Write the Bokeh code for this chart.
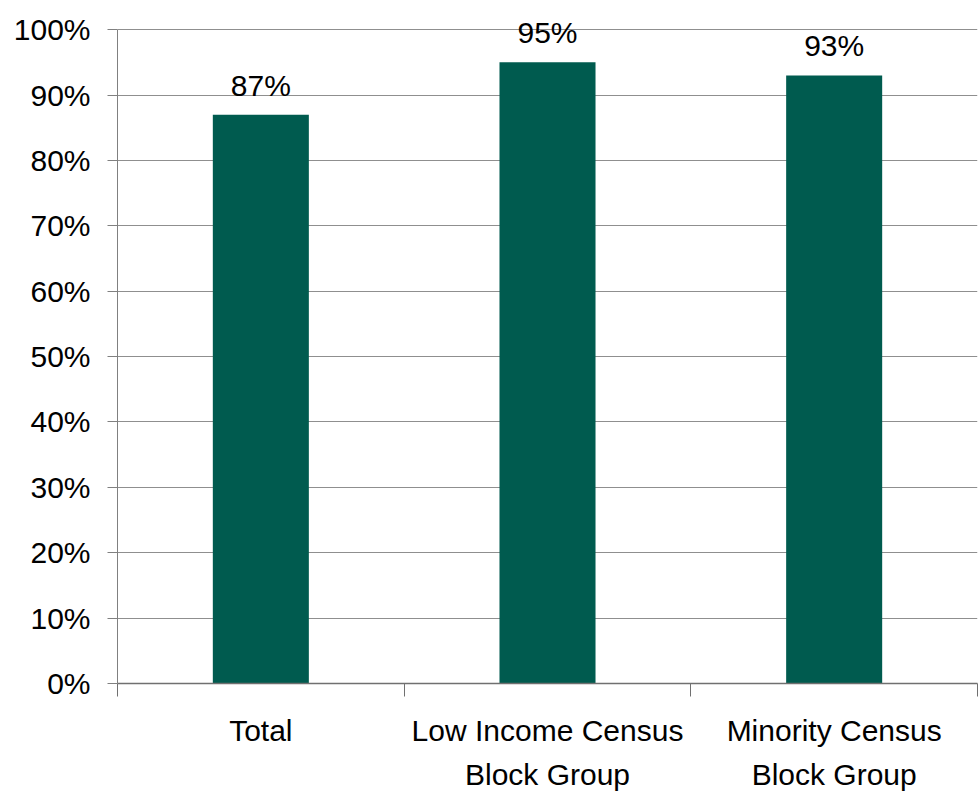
from bokeh.plotting import figure
from bokeh.models import (Range1d, FixedTicker, NumeralTickFormatter, ColumnDataSource, LabelSet)
from bokeh.core.properties import value
from bokeh.embed import file_html
from bokeh.resources import INLINE

categories = ["Total", "Low Income Census\nBlock Group", "Minority Census\nBlock Group"]
values = [0.87, 0.95, 0.93]
value_labels = ["87%", "95%", "93%"]
y_ticks = [0.0, 0.1, 0.2, 0.3, 0.4, 0.5, 0.6, 0.7, 0.8, 0.9, 1.0]

FONT = "Liberation Sans"
FS = "30px"
BAR = "#005B4F"

centers = [i + 0.5 for i in range(len(categories))]
bounds = [i for i in range(len(categories) + 1)]

p = figure(width=979, height=796, output_backend="svg", toolbar_location=None,
           x_range=Range1d(0, len(categories)), y_range=Range1d(0, 1.04),
           min_border_left=117, min_border_right=2, min_border_top=3, min_border_bottom=113)
p.outline_line_color = None
p.background_fill_color = "white"
p.border_fill_color = "white"

src = ColumnDataSource(dict(x=centers, top=values, lab=value_labels))
p.vbar(x="x", top="top", width=0.335, bottom=0, source=src, fill_color=BAR, line_color=None)

labels = LabelSet(x="x", y="top", text="lab", source=src, y_offset=19,
                  text_align="center", text_baseline="alphabetic",
                  text_font=value(FONT), text_font_size=value(FS), text_color="black")
p.add_layout(labels)

# y axis
p.yaxis.ticker = FixedTicker(ticks=y_ticks)
p.yaxis.bounds = (0, 1)
p.yaxis.formatter = NumeralTickFormatter(format="0%")
p.yaxis.axis_line_color = "#808080"
p.yaxis.major_tick_line_color = "#808080"
p.yaxis.major_tick_in = 0
p.yaxis.major_tick_out = 10
p.yaxis.minor_tick_line_color = None
p.yaxis.major_label_text_font = FONT
p.yaxis.major_label_text_font_size = FS
p.yaxis.major_label_text_color = "black"
p.yaxis.major_label_standoff = 17

p.ygrid.ticker = FixedTicker(ticks=y_ticks)
p.ygrid.grid_line_color = "#8f8f8f"
p.xgrid.grid_line_color = None

# x axis: labels at centers, separator ticks at bounds
p.xaxis.ticker = FixedTicker(ticks=centers, minor_ticks=bounds)
p.xaxis.major_label_overrides = {c: cat for c, cat in zip(centers, categories)}
p.xaxis.axis_line_color = "#707070"
p.xaxis.axis_line_width = 1.5
p.xaxis.major_tick_line_color = None
p.xaxis.major_tick_in = 0
p.xaxis.major_tick_out = 0
p.xaxis.minor_tick_line_color = "#707070"
p.xaxis.minor_tick_in = 0
p.xaxis.minor_tick_out = 13
p.xaxis.major_label_text_font = FONT
p.xaxis.major_label_text_font_size = FS
p.xaxis.major_label_text_color = "black"
p.xaxis.major_label_text_line_height = 1.35
p.xaxis.major_label_standoff = 17

open("out.html", "w").write(file_html(p, INLINE))
